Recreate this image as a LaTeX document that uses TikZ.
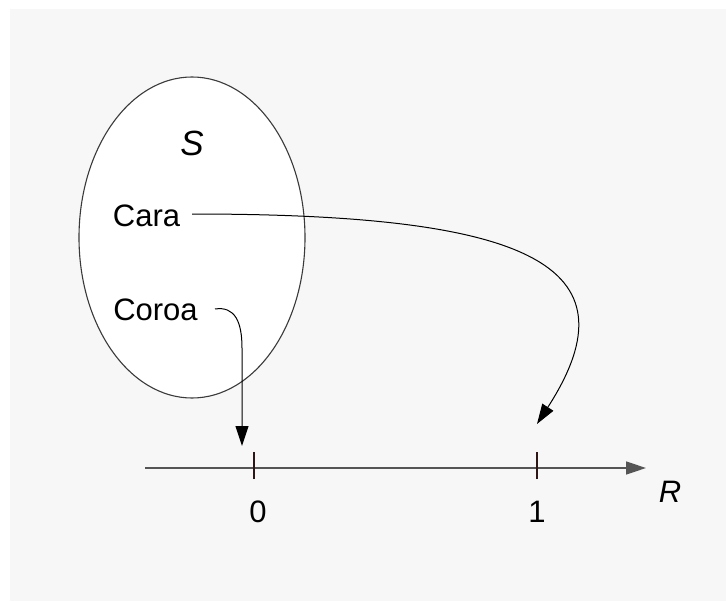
\documentclass[tikz,border=0pt]{standalone}
\usepackage{fontspec}
\setmainfont{Liberation Sans}
\usetikzlibrary{arrows.meta,shapes.geometric}
\definecolor{bg}{HTML}{F7F7F7}
\definecolor{ellcol}{HTML}{3A3A3A}
\definecolor{axcol}{HTML}{555555}
\definecolor{tickcol}{HTML}{2E1616}
\tikzset{
  lbl/.style={inner sep=0pt, font=\fontsize{31}{31}\selectfont},
  mapar/.style={draw=black, line width=1pt, -{Triangle[length=20pt,width=13pt]}},
  tickmark/.style={draw=tickcol, line width=1.8pt},
}
\begin{document}
\begin{tikzpicture}[x=1pt,y=-1pt]
\useasboundingbox (0,0) rectangle (726,602);
\fill[white] (0,0) rectangle (726,602);
\fill[bg] (10,9) rectangle (726,601);
% set S
\node[draw=ellcol, line width=1.1pt, fill=white, ellipse, minimum width=226pt, minimum height=321pt, inner sep=0pt] (set) at (192,237.5) {};
\node[lbl, font=\fontsize{35}{35}\selectfont\itshape] (S) at (192,143) {S};
\node[lbl] (cara) at (146.5,216) {Cara};
\node[lbl] (coroa) at (155.5,310) {Coroa};
% axis
\coordinate (axL) at (145,468);
\coordinate (axR) at (646,468);
\draw[draw=axcol, line width=1.5pt, -{Triangle[length=20pt,width=13pt]}] (axL) -- (axR);
\coordinate (t0) at (254,468);
\coordinate (t1) at (537,468);
\draw[tickmark] ([yshift=-11pt]t0) -- ([yshift=16pt]t0);
\draw[tickmark] ([yshift=-11pt]t1) -- ([yshift=16pt]t1);
\node[lbl] (n0) at (258,512) {0};
\node[lbl] (n1) at (537,512) {1};
\node[lbl, font=\fontsize{31}{31}\selectfont\itshape] (R) at (670,492) {R};
% mapping arrows
\coordinate (caraS) at (192,214);
\coordinate (caraE) at (537,424);
\coordinate (coroaS) at (215,309);
\coordinate (coroaM) at (242,348);
\coordinate (coroaE) at (242,446);
\draw[mapar] (caraS) .. controls (525,214) and (641,263) .. (caraE);
\draw[mapar] (coroaS) .. controls (235,306) and (242,322) .. (coroaM) -- (coroaE);
\end{tikzpicture}
\end{document}
